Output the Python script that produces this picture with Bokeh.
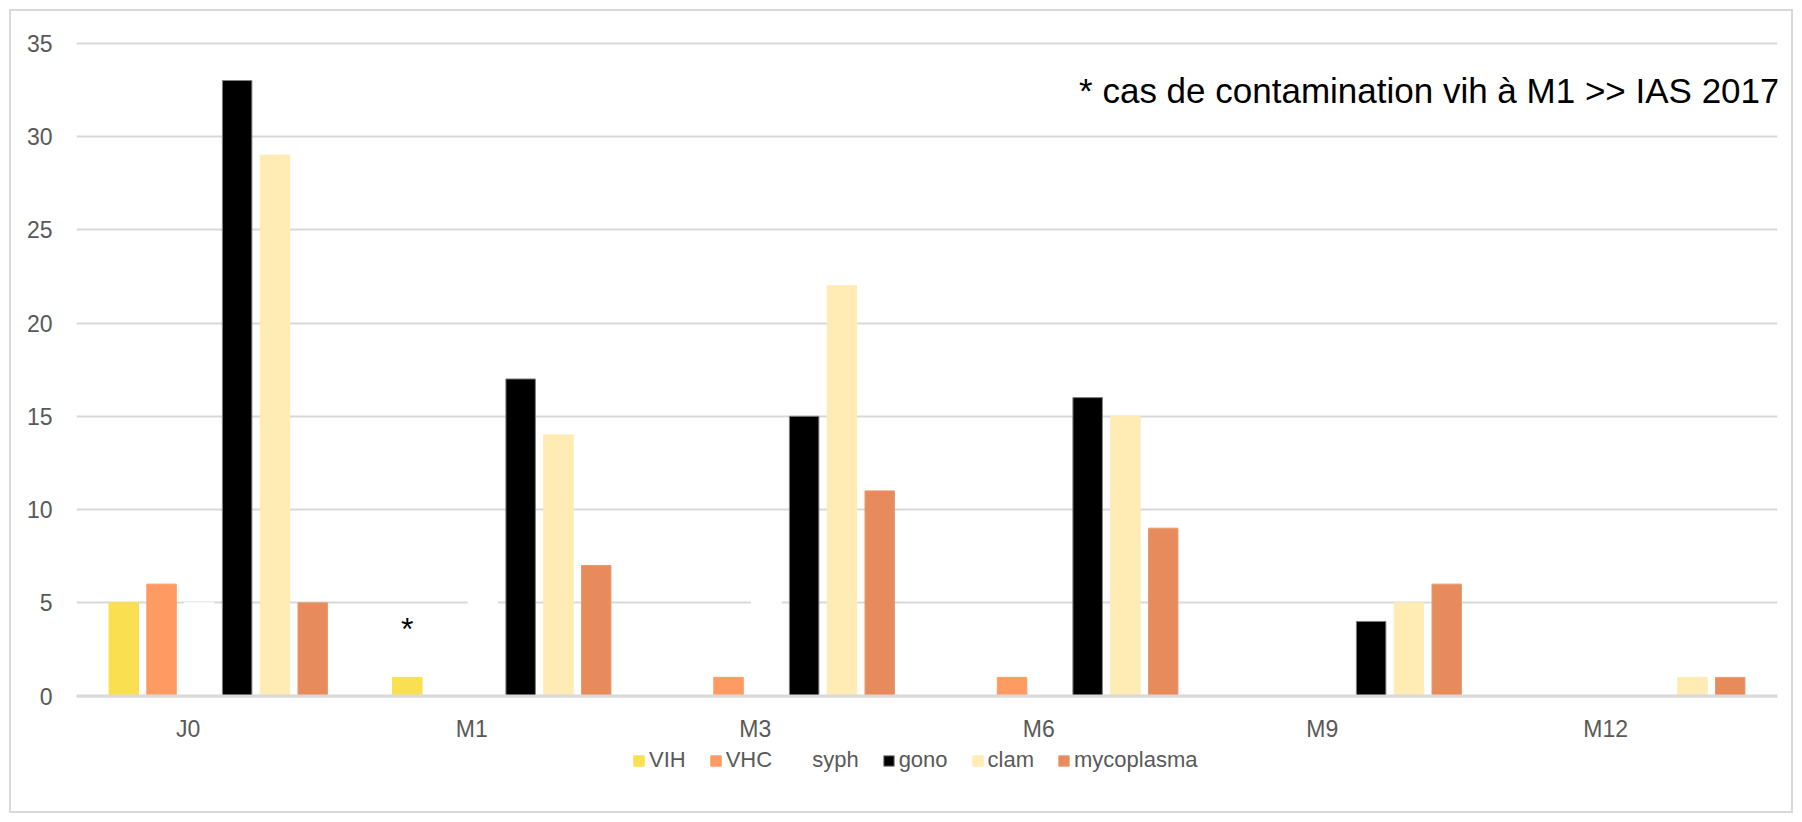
from bokeh.plotting import figure
from bokeh.models import (ColumnDataSource, FixedTicker, Legend, LegendItem, Label,
                          Span, Range1d)
from bokeh.core.properties import value
from bokeh.embed import file_html
from bokeh.resources import INLINE

# ---- data ----
categories = ["J0", "M1", "M3", "M6", "M9", "M12"]
series = ["VIH", "VHC", "syph", "gono", "clam", "mycoplasma"]
vih = [5, 1, 0, 0, 0, 0]
vhc = [6, 0, 1, 1, 0, 0]
syph = [5, 6, 6, 2, 2, 0]
gono = [33, 17, 15, 16, 4, 0]
clam = [29, 14, 22, 15, 5, 1]
myco = [5, 7, 11, 9, 6, 1]
colors = ["#FADF50", "#FF9A62", "#FFFFFF", "#000000", "#FFEBB4", "#E78B5D"]
outlines = ["#FADF50", "#FF9A62", "#FFFFFF", "#7F7F7F", "#FFEBB4", "#E99A70"]
y_ticks = [0, 5, 10, 15, 20, 25, 30, 35]
note = "* cas de contamination vih à M1 >> IAS 2017"

values = [vih, vhc, syph, gono, clam, myco]

FONT = "Liberation Sans"
GREY = "#595959"
GRID = "#D9D9D9"

pitch = 0.1333
bar_w = 0.104
label_shift = 0.106

W, H = 1784, 804
# the frame reaches below zero so that the category labels and the legend
# (which Bokeh clips to the frame) can sit under the bars
p = figure(width=W, height=H,
           x_range=Range1d(0, len(categories)), y_range=Range1d(-5.6, 35.2),
           output_backend="svg", toolbar_location=None, x_axis_location=None,
           min_border_left=65, min_border_right=18, min_border_top=28,
           min_border_bottom=15)
p.styles = {"border": "2px solid #D9D9D9", "margin-left": "9px", "margin-top": "9px"}
p.outline_line_color = None
p.background_fill_color = "white"
p.border_fill_color = "white"

renderers = []
for k, (name, vals) in enumerate(zip(series, values)):
    off = (k - (len(series) - 1) / 2) * pitch
    xs = [i + 0.5 + off for i in range(len(categories))]
    s = ColumnDataSource(dict(x=xs, top=vals))
    r = p.vbar(x="x", top="top", bottom=0, width=bar_w, source=s,
               fill_color=colors[k], line_color=outlines[k], line_width=1)
    renderers.append(r)

# baseline
p.add_layout(Span(location=0, dimension="width", line_color=GRID, line_width=3))

# y axis
p.yaxis.ticker = FixedTicker(ticks=y_ticks)
p.yaxis.axis_line_color = None
p.yaxis.major_tick_line_color = None
p.yaxis.minor_tick_line_color = None
p.yaxis.major_tick_out = 0
p.yaxis.major_tick_in = 0
p.yaxis.major_label_standoff = 24
p.yaxis.major_label_text_font = FONT
p.yaxis.major_label_text_font_size = "23px"
p.yaxis.major_label_text_color = GREY
p.ygrid.ticker = FixedTicker(ticks=y_ticks)
p.ygrid.grid_line_color = GRID
p.ygrid.grid_line_width = 2
p.xgrid.grid_line_color = None

# category labels (sit a little left of group centres, as in the original)
xt = [i + 0.5 - label_shift for i in range(len(categories))]
cat_src = ColumnDataSource(dict(x=xt, y=[0] * len(categories), text=categories))
p.text(x="x", y="y", text="text", source=cat_src, y_offset=33,
       text_align="center", text_baseline="middle", text_font=value(FONT),
       text_font_size=value("23px"), text_color=GREY)

legend = Legend(items=[LegendItem(label=n, renderers=[r]) for n, r in zip(series, renderers)],
                orientation="horizontal", location=(556, 27),
                label_text_font=FONT, label_text_font_size="22px",
                label_text_color=GREY, glyph_width=13, glyph_height=13,
                label_standoff=4, spacing=23, padding=0, margin=0,
                border_line_color=None, background_fill_alpha=0, label_width=10)
p.add_layout(legend, "center")

p.add_layout(Label(x=len(categories), y=32.45, text=note, text_align="right",
                   text_baseline="middle", text_font=FONT,
                   text_font_size="35px", text_color="black", x_offset=2))

off0 = (0 - (len(series) - 1) / 2) * pitch
p.add_layout(Label(x=1 + 0.5 + off0, y=vih[1], text="*", text_align="center",
                   text_baseline="alphabetic", text_font=FONT,
                   text_font_size="32px", text_color="black", y_offset=48))

open("out.html", "w").write(file_html(p, INLINE))
